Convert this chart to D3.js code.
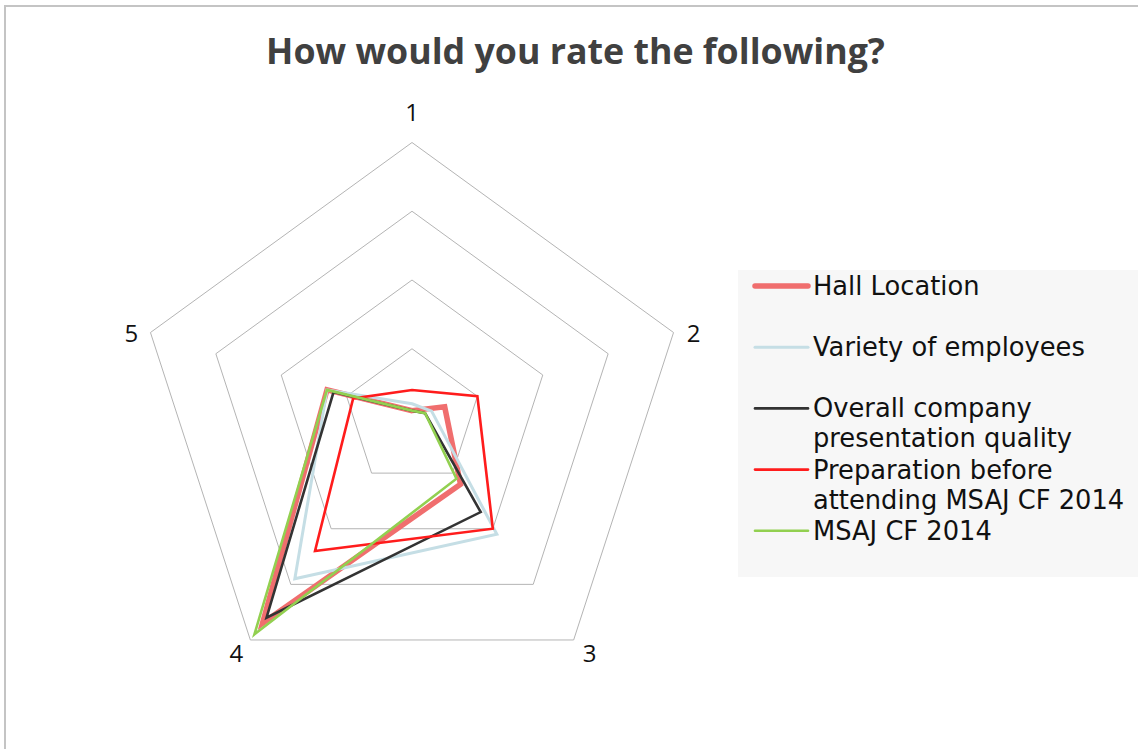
<!DOCTYPE html>
<html><head><meta charset="utf-8">
<script src="https://cdn.jsdelivr.net/npm/d3@7"></script>
<style>body{margin:0;background:#fff;overflow:hidden} svg{display:block}</style>
</head><body><svg id="c" width="1138" height="749"></svg>
<script>
// ---- data ----
const categories = ["1", "2", "3", "4", "5"];
const seriesNames = ["Hall Location", "Variety of employees", "Overall company presentation quality", "Preparation before attending MSAJ CF 2014", "MSAJ CF 2014"];
const hallLocation = [1, 5, 12, 37, 13];
const varietyOfEmployees = [2, 3, 21, 29, 13];
const overallQuality = [1, 2, 17, 36, 12];
const preparation = [4, 10, 20, 24, 9];
const msajCF2014 = [1, 2, 11, 39, 13];
const radialTicks = [10, 20, 30, 40];
const legendLabels = [["Hall Location"], ["Variety of employees"], ["Overall company", "presentation quality"], ["Preparation before", "attending MSAJ CF 2014"], ["MSAJ CF 2014"]];
const titleText = "How would you rate the following?";

// ---- styles ----
const seriesData = [hallLocation, varietyOfEmployees, overallQuality, preparation, msajCF2014];
const colors = ["#F06E6E", "#C5DEE5", "#333333", "#FF1C1C", "#92D050"];
const widths = [5.5, 3, 2.6, 2.6, 2.6];
const FONT = "'Open Sans', 'DejaVu Sans', sans-serif";
const LFONT = "'DejaVu Sans', sans-serif";

const svg = d3.select("#c");
const cx = 412, cy = 417.5, R = 275;

// chart border (only top/left visible)
svg.append("rect").attr("x", 5).attr("y", 6).attr("width", 1160).attr("height", 780)
  .attr("fill", "#fff").attr("stroke", "#C4C4C4").attr("stroke-width", 2);

const r = d3.scaleLinear().domain([0, 40]).range([0, R]);
const ang = d3.scaleLinear().domain([0, categories.length]).range([0, 2 * Math.PI]);

const g = svg.append("g").attr("transform", `translate(${cx},${cy})`);

// grid rings
const ringLine = d3.lineRadial().angle((d, i) => ang(i)).radius(d => r(d)).curve(d3.curveLinearClosed);
radialTicks.forEach(t => {
  g.append("path").attr("d", ringLine(categories.map(() => t)))
    .attr("fill", "none").attr("stroke", "#B4B4B4").attr("stroke-width", 1);
});

// category labels
const labelOffsets = [[0, -31], [20, 0], [16, 13], [-14, 13], [-19, 0]];
categories.forEach((c, i) => {
  const a = ang(i);
  const x = Math.sin(a) * r(40) + labelOffsets[i][0];
  const y = -Math.cos(a) * r(40) + labelOffsets[i][1];
  g.append("text").attr("x", x).attr("y", y).attr("text-anchor", "middle")
    .attr("dominant-baseline", "central").attr("font-family", FONT).attr("font-size", 24)
    .attr("fill", "#111").text(c);
});

// series
const seriesLine = d3.lineRadial().angle((d, i) => ang(i)).radius(d => r(d)).curve(d3.curveLinearClosed);
seriesData.forEach((vals, k) => {
  g.append("path").attr("d", seriesLine(vals)).attr("fill", "none")
    .attr("stroke", colors[k]).attr("stroke-width", widths[k]).attr("stroke-linejoin", "miter");
});

// title
const title = svg.append("text").attr("x", 575.5).attr("y", 64).attr("text-anchor", "middle")
  .attr("font-family", FONT).attr("font-weight", 700).attr("font-size", 36)
  .attr("fill", "#404040").text(titleText);
const tw = title.node().getComputedTextLength();
title.attr("font-size", 36 * 619 / tw);

// legend
svg.append("rect").attr("x", 738).attr("y", 270).attr("width", 420).attr("height", 307).attr("fill", "#F7F7F7");
const lg = svg.append("g");
// size legend font so "Variety of employees" spans ~272px
const probe = lg.append("text").attr("font-family", LFONT).attr("font-size", 24).text(legendLabels[1][0]);
const lfs = Math.min(26, 24 * 272 / probe.node().getComputedTextLength());
probe.remove();
legendLabels.forEach((lines, k) => {
  const y0 = 286 + 61.2 * k;
  lg.append("line").attr("x1", 755).attr("x2", 808).attr("y1", y0).attr("y2", y0)
    .attr("stroke", colors[k]).attr("stroke-width", widths[k]).attr("stroke-linecap", "round");
  lines.forEach((t, j) => {
    lg.append("text").attr("x", 813).attr("y", y0 + 9 + j * 30).attr("font-family", LFONT)
      .attr("font-size", lfs).attr("fill", "#111").text(t);
  });
});
</script>
</body></html>
